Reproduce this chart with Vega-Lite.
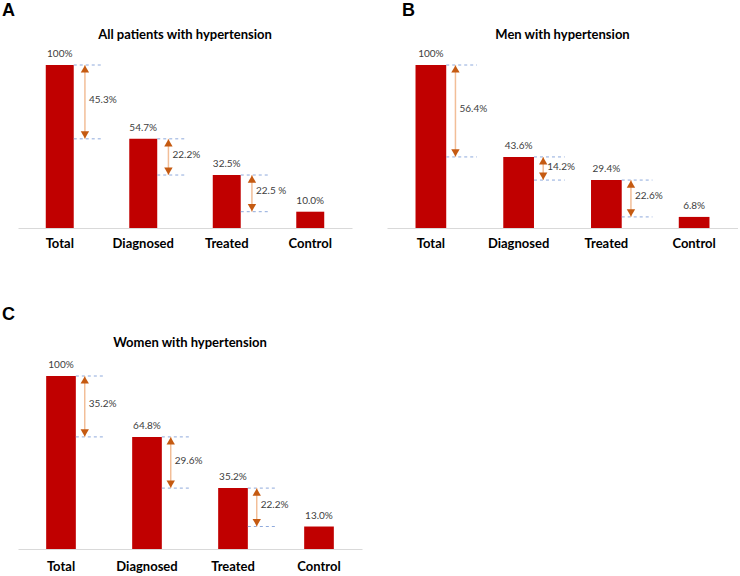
{
  "$schema": "https://vega.github.io/schema/vega-lite/v6.json",
  "padding": {"left": 2, "top": 2, "right": 0, "bottom": 0},
  "background": "white",
  "config": {
    "view": {"stroke": null},
    "font": "Lato",
    "axisX": {"domainColor": "#D9D9D9", "domainWidth": 1, "ticks": false, "labelFontWeight": "bold", "labelFontSize": 13, "labelColor": "#000000", "labelPadding": 9, "labelAngle": 0, "grid": false, "labelFont": "Lato"},
    "title": {"fontSize": 13, "fontWeight": "bold", "color": "#000000", "font": "Lato"}
  },
  "datasets": {
    "funnel": [
      {"panel": "A", "stage": "Total", "value": 100, "label": "100%", "next": 54.7, "drop": "45.3%"},
      {"panel": "A", "stage": "Diagnosed", "value": 54.7, "label": "54.7%", "next": 32.5, "drop": "22.2%"},
      {"panel": "A", "stage": "Treated", "value": 32.5, "label": "32.5%", "next": 10.0, "drop": "22.5 %"},
      {"panel": "A", "stage": "Control", "value": 10.0, "label": "10.0%", "next": null, "drop": null},
      {"panel": "B", "stage": "Total", "value": 100, "label": "100%", "next": 43.6, "drop": "56.4%"},
      {"panel": "B", "stage": "Diagnosed", "value": 43.6, "label": "43.6%", "next": 29.4, "drop": "14.2%"},
      {"panel": "B", "stage": "Treated", "value": 29.4, "label": "29.4%", "next": 6.8, "drop": "22.6%"},
      {"panel": "B", "stage": "Control", "value": 6.8, "label": "6.8%", "next": null, "drop": null},
      {"panel": "C", "stage": "Total", "value": 100, "label": "100%", "next": 64.8, "drop": "35.2%"},
      {"panel": "C", "stage": "Diagnosed", "value": 64.8, "label": "64.8%", "next": 35.2, "drop": "29.6%"},
      {"panel": "C", "stage": "Treated", "value": 35.2, "label": "35.2%", "next": 13.0, "drop": "22.2%"},
      {"panel": "C", "stage": "Control", "value": 13.0, "label": "13.0%", "next": null, "drop": null}
    ]
  },
  "data": {"name": "funnel"},
  "spacing": 56,
  "vconcat": [
    {
      "spacing": 35,
      "hconcat": [
        {
          "title": {"text": "A", "anchor": "start", "dx": -16, "fontSize": 18, "font": "Liberation Sans", "fontWeight": "bold", "offset": 9},
          "vconcat": [
            {
              "width": 334, "height": 163,
              "title": {"text": "All patients with hypertension", "offset": 7},
              "transform": [{"filter": "datum.panel === 'A'"}],
              "layer": [
                {"mark": {"type": "bar", "color": "#C00000"},
                 "encoding": {
                   "x": {"field": "stage", "type": "nominal", "sort": ["Total", "Diagnosed", "Treated", "Control"], "title": null, "scale": {"paddingInner": 0.665, "paddingOuter": 0.3325}},
                   "y": {"field": "value", "type": "quantitative", "scale": {"domain": [0, 100], "nice": false}, "axis": null}}},
                {"mark": {"type": "text", "fontSize": 10, "color": "#404040", "baseline": "bottom", "dy": -6},
                 "encoding": {
                   "x": {"field": "stage", "type": "nominal", "sort": ["Total", "Diagnosed", "Treated", "Control"], "title": null},
                   "y": {"field": "value", "type": "quantitative", "axis": null},
                   "text": {"field": "label"}}},
                {"transform": [{"filter": "datum.next != null"}],
                 "layer": [
                   {"mark": {"type": "rule", "color": "#8FAADC", "strokeDash": [3, 3], "strokeWidth": 1},
                    "encoding": {
                      "x": {"field": "stage", "type": "nominal", "sort": ["Total", "Diagnosed", "Treated", "Control"], "title": null, "bandPosition": 1},
                      "x2": {"field": "stage", "bandPosition": 2},
                      "y": {"field": "value", "type": "quantitative", "axis": null}}},
                   {"mark": {"type": "rule", "color": "#8FAADC", "strokeDash": [3, 3], "strokeWidth": 1},
                    "encoding": {
                      "x": {"field": "stage", "type": "nominal", "sort": ["Total", "Diagnosed", "Treated", "Control"], "title": null, "bandPosition": 1},
                      "x2": {"field": "stage", "bandPosition": 2},
                      "y": {"field": "next", "type": "quantitative", "axis": null}}},
                   {"mark": {"type": "rule", "color": "#F2BE98", "strokeWidth": 1.5},
                    "encoding": {
                      "x": {"field": "stage", "type": "nominal", "sort": ["Total", "Diagnosed", "Treated", "Control"], "title": null, "bandPosition": 1.4},
                      "y": {"field": "value", "type": "quantitative", "axis": null},
                      "y2": {"field": "next"}}},
                   {"mark": {"type": "point", "shape": "triangle-up", "filled": true, "opacity": 1, "size": 70, "color": "#C55A11", "yOffset": 4},
                    "encoding": {
                      "x": {"field": "stage", "type": "nominal", "sort": ["Total", "Diagnosed", "Treated", "Control"], "title": null, "bandPosition": 1.4},
                      "y": {"field": "value", "type": "quantitative", "axis": null}}},
                   {"mark": {"type": "point", "shape": "triangle-down", "filled": true, "opacity": 1, "size": 70, "color": "#C55A11", "yOffset": -4},
                    "encoding": {
                      "x": {"field": "stage", "type": "nominal", "sort": ["Total", "Diagnosed", "Treated", "Control"], "title": null, "bandPosition": 1.4},
                      "y": {"field": "next", "type": "quantitative", "axis": null}}},
                   {"transform": [{"fold": ["value", "next"], "as": ["end", "level"]}],
                    "mark": {"type": "text", "fontSize": 10, "color": "#404040", "align": "left", "baseline": "middle", "dx": 4, "dy": -2},
                    "encoding": {
                      "x": {"field": "stage", "type": "nominal", "sort": ["Total", "Diagnosed", "Treated", "Control"], "title": null, "bandPosition": 1.4},
                      "y": {"field": "level", "aggregate": "mean", "type": "quantitative", "axis": null},
                      "text": {"field": "drop"}}}
                 ]}
              ]
            }
          ]
        },
        {
          "title": {"text": "B", "anchor": "start", "dx": 15, "fontSize": 18, "font": "Liberation Sans", "fontWeight": "bold", "offset": 9},
          "vconcat": [
            {
              "width": 351, "height": 163,
              "title": {"text": "Men with hypertension", "offset": 7},
              "transform": [{"filter": "datum.panel === 'B'"}],
              "layer": [
                {"mark": {"type": "bar", "color": "#C00000"},
                 "encoding": {
                   "x": {"field": "stage", "type": "nominal", "sort": ["Total", "Diagnosed", "Treated", "Control"], "title": null, "scale": {"paddingInner": 0.65, "paddingOuter": 0.325}},
                   "y": {"field": "value", "type": "quantitative", "scale": {"domain": [0, 100], "nice": false}, "axis": null}}},
                {"mark": {"type": "text", "fontSize": 10, "color": "#404040", "baseline": "bottom", "dy": -6},
                 "encoding": {
                   "x": {"field": "stage", "type": "nominal", "sort": ["Total", "Diagnosed", "Treated", "Control"], "title": null},
                   "y": {"field": "value", "type": "quantitative", "axis": null},
                   "text": {"field": "label"}}},
                {"transform": [{"filter": "datum.next != null"}],
                 "layer": [
                   {"mark": {"type": "rule", "color": "#8FAADC", "strokeDash": [3, 3], "strokeWidth": 1},
                    "encoding": {
                      "x": {"field": "stage", "type": "nominal", "sort": ["Total", "Diagnosed", "Treated", "Control"], "title": null, "bandPosition": 1},
                      "x2": {"field": "stage", "bandPosition": 2},
                      "y": {"field": "value", "type": "quantitative", "axis": null}}},
                   {"mark": {"type": "rule", "color": "#8FAADC", "strokeDash": [3, 3], "strokeWidth": 1},
                    "encoding": {
                      "x": {"field": "stage", "type": "nominal", "sort": ["Total", "Diagnosed", "Treated", "Control"], "title": null, "bandPosition": 1},
                      "x2": {"field": "stage", "bandPosition": 2},
                      "y": {"field": "next", "type": "quantitative", "axis": null}}},
                   {"mark": {"type": "rule", "color": "#F2BE98", "strokeWidth": 1.5},
                    "encoding": {
                      "x": {"field": "stage", "type": "nominal", "sort": ["Total", "Diagnosed", "Treated", "Control"], "title": null, "bandPosition": 1.3},
                      "y": {"field": "value", "type": "quantitative", "axis": null},
                      "y2": {"field": "next"}}},
                   {"mark": {"type": "point", "shape": "triangle-up", "filled": true, "opacity": 1, "size": 70, "color": "#C55A11", "yOffset": 4},
                    "encoding": {
                      "x": {"field": "stage", "type": "nominal", "sort": ["Total", "Diagnosed", "Treated", "Control"], "title": null, "bandPosition": 1.3},
                      "y": {"field": "value", "type": "quantitative", "axis": null}}},
                   {"mark": {"type": "point", "shape": "triangle-down", "filled": true, "opacity": 1, "size": 70, "color": "#C55A11", "yOffset": -4},
                    "encoding": {
                      "x": {"field": "stage", "type": "nominal", "sort": ["Total", "Diagnosed", "Treated", "Control"], "title": null, "bandPosition": 1.3},
                      "y": {"field": "next", "type": "quantitative", "axis": null}}},
                   {"transform": [{"fold": ["value", "next"], "as": ["end", "level"]}],
                    "mark": {"type": "text", "fontSize": 10, "color": "#404040", "align": "left", "baseline": "middle", "dx": 4, "dy": -2},
                    "encoding": {
                      "x": {"field": "stage", "type": "nominal", "sort": ["Total", "Diagnosed", "Treated", "Control"], "title": null, "bandPosition": 1.3},
                      "y": {"field": "level", "aggregate": "mean", "type": "quantitative", "axis": null},
                      "text": {"field": "drop"}}}
                 ]}
              ]
            }
          ]
        }
      ]
    },
    {
      "title": {"text": "C", "anchor": "start", "dx": -16, "fontSize": 18, "font": "Liberation Sans", "fontWeight": "bold", "offset": 13},
      "vconcat": [
        {
          "width": 344, "height": 173,
          "title": {"text": "Women with hypertension", "offset": 10},
          "transform": [{"filter": "datum.panel === 'C'"}],
          "layer": [
            {"mark": {"type": "bar", "color": "#C00000"},
             "encoding": {
               "x": {"field": "stage", "type": "nominal", "sort": ["Total", "Diagnosed", "Treated", "Control"], "title": null, "scale": {"paddingInner": 0.655, "paddingOuter": 0.3275}, "axis": {"labelPadding": 11}},
               "y": {"field": "value", "type": "quantitative", "scale": {"domain": [0, 100], "nice": false}, "axis": null}}},
            {"mark": {"type": "text", "fontSize": 10, "color": "#404040", "baseline": "bottom", "dy": -6},
             "encoding": {
               "x": {"field": "stage", "type": "nominal", "sort": ["Total", "Diagnosed", "Treated", "Control"], "title": null},
               "y": {"field": "value", "type": "quantitative", "axis": null},
               "text": {"field": "label"}}},
            {"transform": [{"filter": "datum.next != null"}],
             "layer": [
               {"mark": {"type": "rule", "color": "#8FAADC", "strokeDash": [3, 3], "strokeWidth": 1},
                "encoding": {
                  "x": {"field": "stage", "type": "nominal", "sort": ["Total", "Diagnosed", "Treated", "Control"], "title": null, "bandPosition": 1},
                  "x2": {"field": "stage", "bandPosition": 2},
                  "y": {"field": "value", "type": "quantitative", "axis": null}}},
               {"mark": {"type": "rule", "color": "#8FAADC", "strokeDash": [3, 3], "strokeWidth": 1},
                "encoding": {
                  "x": {"field": "stage", "type": "nominal", "sort": ["Total", "Diagnosed", "Treated", "Control"], "title": null, "bandPosition": 1},
                  "x2": {"field": "stage", "bandPosition": 2},
                  "y": {"field": "next", "type": "quantitative", "axis": null}}},
               {"mark": {"type": "rule", "color": "#F2BE98", "strokeWidth": 1.5},
                "encoding": {
                  "x": {"field": "stage", "type": "nominal", "sort": ["Total", "Diagnosed", "Treated", "Control"], "title": null, "bandPosition": 1.3},
                  "y": {"field": "value", "type": "quantitative", "axis": null},
                  "y2": {"field": "next"}}},
               {"mark": {"type": "point", "shape": "triangle-up", "filled": true, "opacity": 1, "size": 70, "color": "#C55A11", "yOffset": 4},
                "encoding": {
                  "x": {"field": "stage", "type": "nominal", "sort": ["Total", "Diagnosed", "Treated", "Control"], "title": null, "bandPosition": 1.3},
                  "y": {"field": "value", "type": "quantitative", "axis": null}}},
               {"mark": {"type": "point", "shape": "triangle-down", "filled": true, "opacity": 1, "size": 70, "color": "#C55A11", "yOffset": -4},
                "encoding": {
                  "x": {"field": "stage", "type": "nominal", "sort": ["Total", "Diagnosed", "Treated", "Control"], "title": null, "bandPosition": 1.3},
                  "y": {"field": "next", "type": "quantitative", "axis": null}}},
               {"transform": [{"fold": ["value", "next"], "as": ["end", "level"]}],
                "mark": {"type": "text", "fontSize": 10, "color": "#404040", "align": "left", "baseline": "middle", "dx": 4, "dy": -2},
                "encoding": {
                  "x": {"field": "stage", "type": "nominal", "sort": ["Total", "Diagnosed", "Treated", "Control"], "title": null, "bandPosition": 1.3},
                  "y": {"field": "level", "aggregate": "mean", "type": "quantitative", "axis": null},
                  "text": {"field": "drop"}}}
             ]}
          ]
        }
      ]
    }
  ]
}
